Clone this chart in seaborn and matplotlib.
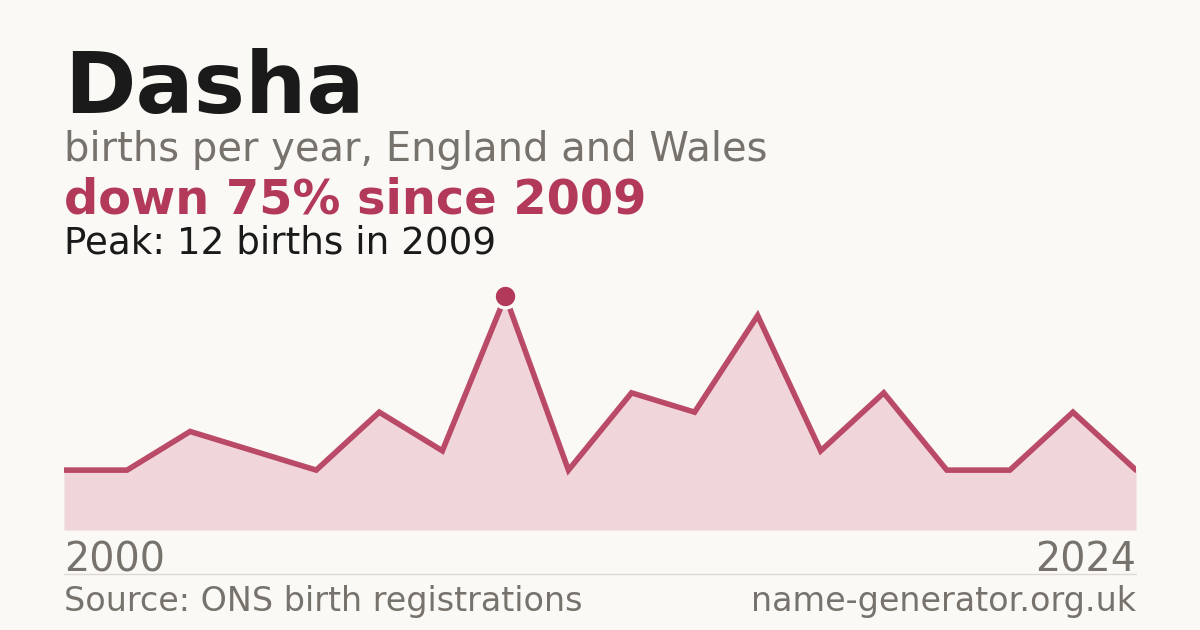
import numpy as np
import pandas as pd
import matplotlib
matplotlib.use("Agg")
import matplotlib.pyplot as plt
import seaborn as sns

# values (years with no published count are skipped)
years = [2000, 2001, 2003, 2004, 2005, 2006, 2008, 2009, 2011,
         2012, 2013, 2014, 2016, 2017, 2019, 2020, 2022, 2024]
births = [3, 3, 5, 4, 3, 6, 4, 12, 3, 7, 6, 11, 4, 7, 3, 3, 6, 3]
name = "Dasha"
subtitle = "births per year, England and Wales"
source = "Source: ONS birth registrations"
site = "name-generator.org.uk"

BG = "#faf9f5"
RED = "#b3395a"
FILL = "#f0d5da"
GREY = "#77726c"
DARK = "#1a1a1a"

df = pd.DataFrame({"year": years, "births": births})
df["pos"] = np.arange(len(df))

peak_i = df["births"].idxmax()
peak = df.loc[peak_i]
last = df["births"].iloc[-1]
change = round((last - peak["births"]) / peak["births"] * 100)

sns.set_theme(style="white")
plt.rcParams["font.family"] = ["DejaVu Sans"]

fig = plt.figure(figsize=(12, 6.3), dpi=100, facecolor=BG)
ax = fig.add_axes([64 / 1200, 1 - 530 / 630, 1072 / 1200, 250 / 630])
ax.set_facecolor(BG)

ax.fill_between(df["pos"], df["births"], -0.1, color=FILL, lw=0)
sns.lineplot(data=df, x="pos", y="births", ax=ax, color=RED, lw=4.0,
             alpha=0.9, solid_joinstyle="miter")
ax.scatter(peak["pos"], peak["births"], s=270, color=RED, edgecolor=BG,
           linewidth=2.5, zorder=5)
ax.axhline(-0.1, color="#e2ded8", lw=1)

ax.set_xlim(0, len(df) - 1)
ax.set_ylim(-0.1, df["births"].max() * 1.07)
ax.axis("off")

# header text
fig.text(64 / 1200, 1 - 113 / 630, name, fontsize=62, fontweight="bold",
         color=DARK, va="baseline")
fig.text(64 / 1200, 1 - 161 / 630, subtitle, fontsize=28.8, color=GREY,
         va="baseline")
fig.text(64 / 1200, 1 - 214 / 630,
         f"down {abs(change)}% since {int(peak['year'])}",
         fontsize=34.5, fontweight="bold", color=RED, va="baseline")
fig.text(64 / 1200, 1 - 254 / 630,
         f"Peak: {int(peak['births'])} births in {int(peak['year'])}",
         fontsize=26.8, color=DARK, va="baseline")

# axis end labels
fig.text(64 / 1200, 1 - 571 / 630, str(years[0]), fontsize=28.5, color=GREY,
         va="baseline")
fig.text(1136 / 1200, 1 - 571 / 630, str(years[-1]), fontsize=28.5,
         color=GREY, va="baseline", ha="right")

fig.add_artist(plt.Line2D([64 / 1200, 1136 / 1200], [1 - 574 / 630] * 2,
                          color="#dedad3", lw=1))

fig.text(64 / 1200, 1 - 611 / 630, source, fontsize=24, color=GREY,
         va="baseline")
fig.text(1136 / 1200, 1 - 611 / 630, site, fontsize=24, color=GREY,
         va="baseline", ha="right")

fig.savefig("out.png", dpi=100, facecolor=BG)
